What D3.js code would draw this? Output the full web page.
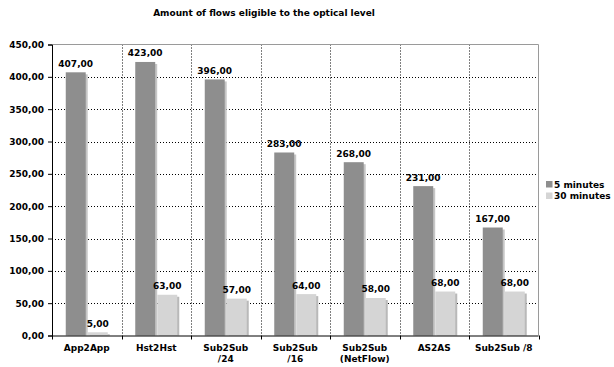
<!DOCTYPE html>
<html>
<head>
<meta charset="utf-8">
<script src="https://cdn.jsdelivr.net/npm/d3@7"></script>
<style>
  html, body { margin: 0; padding: 0; background: #fff; }
  svg text { font-family: "DejaVu Sans", Verdana, sans-serif; font-weight: bold; fill: #000; }
</style>
</head>
<body>
<svg id="chart" width="614" height="367"></svg>
<script>
// Flow counts per aggregation level
const categories = ["App2App", "Hst2Hst", "Sub2Sub\n/24", "Sub2Sub\n/16", "Sub2Sub\n(NetFlow)", "AS2AS", "Sub2Sub /8"];
const seriesNames = ["5 minutes", "30 minutes"];
const fiveMinutes = [407, 423, 396, 283, 268, 231, 167];
const thirtyMinutes = [5, 63, 57, 64, 58, 68, 68];
const yTicks = [0, 50, 100, 150, 200, 250, 300, 350, 400, 450];

const fill = { "5 minutes": "#8e8e8e", "30 minutes": "#d5d5d5" };
const shade = { "5 minutes": "#c6c6c6", "30 minutes": "#b9b9b9" };

const svg = d3.select("#chart");
const plotL = 52, plotR = 538.5, plotT = 44.5, plotB = 335.5;

const fmt = v => d3.format(".2f")(v).replace(".", ",");

const x0 = d3.scaleBand().domain(categories).range([plotL, plotR]).padding(0);
const step = x0.bandwidth();
const x1 = d3.scaleBand().domain(seriesNames)
  .range([step / 2 - 21, step / 2 + 21]).paddingInner(0.095).paddingOuter(0);
const y = d3.scaleLinear().domain([0, 450]).range([plotB, plotT]);

// Title
svg.append("text").attr("x", 264).attr("y", 16).attr("text-anchor", "middle")
  .style("font-size", "9px").text("Amount of flows eligible to the optical level");

// Horizontal dotted grid
svg.append("g").selectAll("line").data(yTicks.filter(t => t > 0 && t < 450)).join("line")
  .attr("x1", plotL).attr("x2", plotR)
  .attr("y1", d => Math.round(y(d)) + 0.5).attr("y2", d => Math.round(y(d)) + 0.5)
  .attr("stroke", "#000").attr("stroke-dasharray", "1,2");

// Vertical dotted grid between categories
svg.append("g").selectAll("line").data(categories.slice(1)).join("line")
  .attr("x1", d => Math.round(x0(d)) + 0.5).attr("x2", d => Math.round(x0(d)) + 0.5)
  .attr("y1", plotT).attr("y2", plotB)
  .attr("stroke", "#000").attr("stroke-dasharray", "1,2");

// Top and right frame
svg.append("path")
  .attr("d", `M${plotL},${plotT}H${plotR}V${plotB}`)
  .attr("fill", "none").attr("stroke", "#9a9a9a").attr("stroke-width", 1);

// Bars with drop shadow
const rows = categories.map((c, i) => ({ c, vals: [
  { s: "5 minutes", v: fiveMinutes[i] },
  { s: "30 minutes", v: thirtyMinutes[i] }] }));

const groups = svg.append("g").selectAll("g").data(rows).join("g")
  .attr("transform", d => `translate(${x0(d.c)},0)`);

groups.selectAll("rect.shadow").data(d => d.vals).join("rect")
  .attr("class", "shadow")
  .attr("x", d => x1(d.s) + 2).attr("y", d => y(d.v) + 2)
  .attr("width", x1.bandwidth()).attr("height", d => plotB - y(d.v) - 2)
  .attr("fill", d => shade[d.s]);

groups.selectAll("rect.bar").data(d => d.vals).join("rect")
  .attr("class", "bar")
  .attr("x", d => x1(d.s)).attr("y", d => y(d.v))
  .attr("width", x1.bandwidth()).attr("height", d => plotB - y(d.v))
  .attr("fill", d => fill[d.s]);

groups.selectAll("text.val").data(d => d.vals).join("text")
  .attr("class", "val")
  .attr("x", d => x1(d.s) + x1.bandwidth() / 2).attr("y", d => y(d.v) - 5.5)
  .attr("text-anchor", "middle").style("font-size", "9px")
  .text(d => fmt(d.v));

// Y axis
const yAxis = svg.append("g").attr("transform", `translate(${plotL},0)`)
  .call(d3.axisLeft(y).tickValues(yTicks).tickSize(4).tickPadding(4).tickFormat(fmt));
yAxis.select(".domain").attr("stroke", "#000");
yAxis.selectAll(".tick line").attr("stroke", "#000");
yAxis.selectAll("text").style("font-size", "9px").attr("font-family", null);

// X axis
const xAxis = svg.append("g").attr("transform", `translate(0,${plotB})`)
  .call(d3.axisBottom(x0).tickSize(0).tickFormat(""));
xAxis.select(".domain").attr("stroke", "#000").attr("d", `M${plotL},0.5H${plotR}`);
xAxis.selectAll(".tick").remove();

svg.append("g").selectAll("line").data(categories.map(c => x0(c)).concat([plotR])).join("line")
  .attr("x1", d => Math.round(d) + 0.5).attr("x2", d => Math.round(d) + 0.5)
  .attr("y1", plotB).attr("y2", plotB + 4).attr("stroke", "#000");

const xl = svg.append("g").selectAll("text").data(categories).join("text")
  .attr("x", d => x0(d) + step / 2).attr("y", plotB + 15.5)
  .attr("text-anchor", "middle").style("font-size", "9px");
xl.selectAll("tspan").data(d => d.split("\n")).join("tspan")
  .attr("x", function () { return d3.select(this.parentNode).attr("x"); })
  .attr("dy", (d, i) => i === 0 ? 0 : 11)
  .text(d => d);

// Legend
const lg = svg.append("g").selectAll("g").data(seriesNames).join("g")
  .attr("transform", (d, i) => `translate(546,${181 + i * 11.5})`);
lg.append("rect").attr("width", 6.5).attr("height", 6.5).attr("fill", d => fill[d]);
lg.append("text").attr("x", 8).attr("y", 6.8).style("font-size", "9px").text(d => d);
</script>
</body>
</html>
